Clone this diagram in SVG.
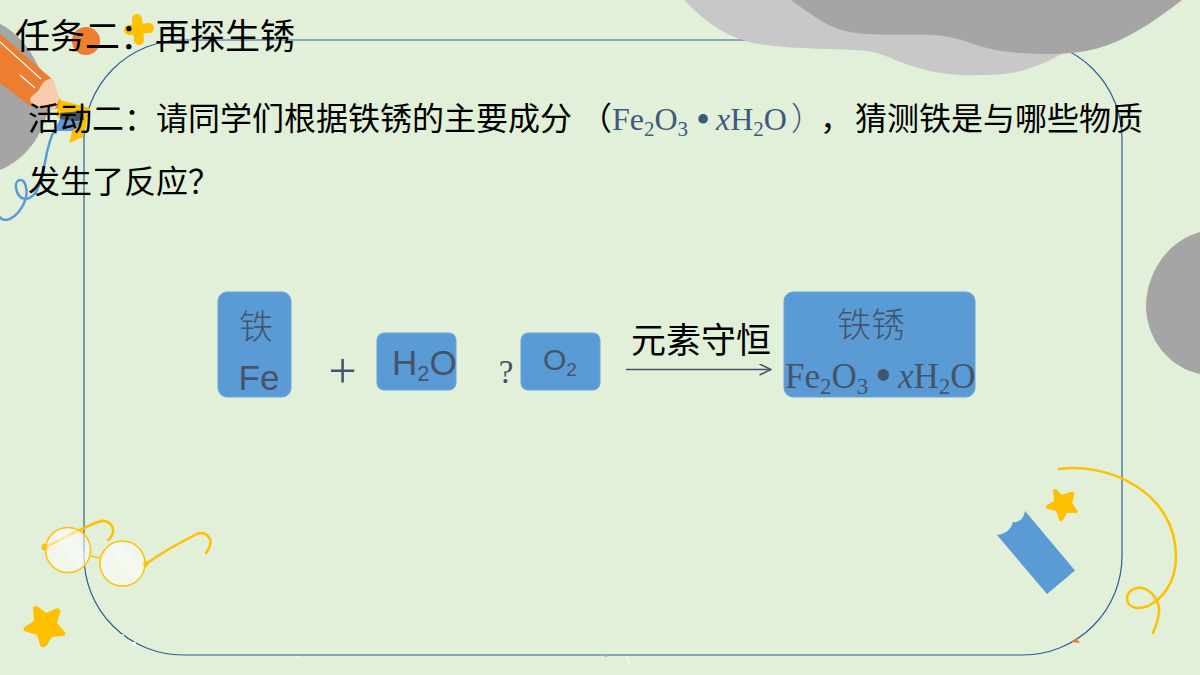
<svg xmlns="http://www.w3.org/2000/svg" width="1200" height="675" viewBox="0 0 1200 675">
  <style>
    .cjk { font-family: "Noto Sans CJK SC", "Liberation Sans", sans-serif; fill: #000; }
    .light { font-family: "Noto Sans CJK SC", "Liberation Sans", sans-serif; font-weight: 300; fill: #44546a; }
    .tnr { font-family: "Liberation Serif", serif; fill: #44546a; }
    .tnrb { font-family: "Liberation Serif", serif; fill: #3b5a80; }
    .sans { font-family: "Liberation Sans", sans-serif; fill: #44546a; }
    .box { fill: #5b9bd5; stroke: #6aa5db; stroke-width: 1; }
    .gold { fill: none; stroke: #ffc000; stroke-linecap: round; }
    .lens { fill: #fff; fill-opacity: 0.5; stroke: #ffc000; stroke-width: 1.5; }
    .gleam { fill: #fff; fill-opacity: 0.3; }
  </style>
  <defs>
    <marker id="arrow" markerWidth="13" markerHeight="12" refX="12" refY="6" orient="auto" markerUnits="userSpaceOnUse">
      <path d="M0.500 0.500 L12 6 L0.500 11.500" fill="none" stroke="#44546a" stroke-width="1.500"/>
    </marker>
    <clipPath id="lens-a"><circle cx="68" cy="550" r="22"/></clipPath>
    <clipPath id="lens-b"><circle cx="122.500" cy="563.500" r="22"/></clipPath>
  </defs>

  <rect width="1200" height="675" fill="#e2efd9"/>

  <!-- rounded frame, its top edge runs behind the grey blobs -->
  <g id="frame">
    <rect x="84" y="40" width="1038" height="615" rx="99" ry="99" fill="none" stroke="#2f5f95" stroke-width="1.200"/>
  </g>

  <!-- background blobs -->
  <g id="blobs">
    <path d="M684 0 C703 20 722 34 746 41 C775 50 835 48 867 51 C880 53 890 58 901 62 C925 72 950 76 977 75 C995 75 1010 74 1025 70 C1040 65 1052 60 1068 50 L1100 0 Z" fill="#c8c8c8"/>
    <path d="M791 0 C800 7 808 12 818 19 C835 30 850 33 867 34 C890 36 920 33 943 36 C958 38 972 44 987 48 C1005 53 1030 54 1050 54 C1075 54 1095 50 1108 45 C1135 35 1160 17 1182 0 Z" fill="#a5a5a5"/>
    <path d="M1200 232 C1170 240 1147 270 1146 305 C1146 340 1170 368 1200 374 Z" fill="#a5a5a5"/>
    <path d="M0 24 C25 36 46 70 49 105 C44 135 25 160 0 170 Z" fill="#a5a5a5"/>
  </g>

  <!-- pencil and small shapes at the top left -->
  <g id="pencil">
    <circle cx="86" cy="41" r="14" fill="#ed7d31"/>
    <path d="M137 19 L139 40 M129 30 L149 28" stroke="#ffc000" stroke-width="10" stroke-linecap="round" fill="none"/>
    <path d="M0 34 L52 79 L30 106 L0 83 Z" fill="#ed7d31"/>
    <path d="M40 88 C43 80 50 78 53 79 L60 100 L61 108 L53 110 C44 108 30 106 30 99 C32 94 38 93 40 88 Z" fill="#f8cbad"/>
    <path d="M55 109 L60 98 L62 107 Z" fill="#ed7d31"/>
    <path d="M60 100 L90 108 L83 137 L69 143 L72 132 L56 115 Z" fill="#ffc000"/>
    <path d="M60 113 L83 111 L84 120 L60 124 Z" fill="#44546a"/>
    <path d="M54 131 L60 119 L82 122 L72 131 Z" fill="#5b9bd5"/>
    <path d="M0 42 L41 79 M20 75 L35 88" stroke="#fff" stroke-width="1.200" fill="none"/>
    <path d="M54 131 C44 150 46 175 36 192 C28 203 18 200 16 188 C15 178 24 177 26 187 C29 200 18 218 6 220 C3 220 1 219 0 217" fill="none" stroke="#5b9bd5" stroke-width="2.500" stroke-linecap="round"/>
  </g>

  <!-- stray marks along the lower frame edge -->
  <g id="specks">
    <circle cx="134" cy="644" r="2.200" fill="#fff"/>
    <circle cx="123" cy="635" r="1" fill="#fff"/>
    <circle cx="298" cy="657" r="1" fill="#fff"/>
    <path d="M626 656 L629 664" stroke="#fff" stroke-width="1"/>
    <path d="M604 657 L608 656" stroke="#f4b183" stroke-width="1"/>
    <path d="M1076 638 L1080 643 L1072 642 Z" fill="#ed7d31"/>
  </g>

  <!-- glasses -->
  <g id="glasses">
    <circle cx="45" cy="547" r="3.500" fill="#ffc000"/>
    <circle cx="145" cy="564" r="3" fill="#ffc000"/>
    <path d="M46 547 C60 540 82 528 98 522 C108 518 114 526 113 532 C112 536 110 539 108 540" class="gold" stroke-width="2.500"/>
    <path d="M146 564 C165 550 185 540 197 534 C207 530 212 540 210 545 C209 549 207 552 206 553" class="gold" stroke-width="2.500"/>
    <path d="M91 556 L100 558" stroke="#ffc000" stroke-width="1.500"/>
    <circle class="lens" cx="68" cy="550" r="22.500"/>
    <circle class="lens" cx="122.500" cy="563.500" r="22.500"/>
    <path class="gleam" clip-path="url(#lens-a)" d="M50 530 L60 525 L92 560 L82 572 Z"/>
    <path class="gleam" clip-path="url(#lens-b)" d="M104 543 L114 538 L146 573 L136 585 Z"/>
  </g>

  <!-- stars -->
  <g id="star-left">
    <path d="M33 607 C35 605 38 606 40 608 L46 613 L55 609 C59 607 61 610 60 613 L57 623 L64 631 C67 634 65 636 62 636 L52 637 L47 645 C44 648 41 648 40 645 L37 635 L27 632 C23 631 22 629 26 626 L34 621 Z" fill="#ffc000"/>
  </g>
  <g id="star-right">
    <path d="M1053 490 C1055 488 1057 489 1058 491 L1062 495 L1070 492 C1074 491 1075 493 1074 496 L1072 503 L1077 510 C1079 512 1077 513 1075 513 L1067 513 L1063 520 C1061 522 1059 521 1059 519 L1056 511 L1048 509 C1045 508 1045 506 1047 505 L1054 501 Z" fill="#ffc000"/>
  </g>

  <!-- eraser -->
  <g id="eraser">
    <path d="M1025 511 L1075 570.500 L1047 594 L997 535 C1005 534 1011 530 1013 522 C1019 523 1024 518 1025 511 Z" fill="#5b9bd5"/>
  </g>

  <!-- curl on the right -->
  <g id="curl">
    <path d="M1059 469 C1105 462 1176 490 1176 557 C1176 585 1160 600 1148 606 C1135 611 1127 606 1127 598 C1128 590 1135 587 1142 588 C1152 590 1160 602 1159 612 C1158 622 1155 628 1153 633" class="gold" stroke-width="2.500"/>
  </g>

  <!-- headings -->
  <g id="title">
    <text class="cjk" x="15" y="49" font-size="35">任务二：再探生锈</text>
  </g>
  <g id="question">
    <text class="cjk" x="28" y="130" font-size="32">活动二：请同学们根据铁锈的主要成分</text>
    <text class="cjk" x="580" y="130" font-size="32">（</text>
    <text class="tnrb" x="612" y="130" font-size="32">Fe<tspan font-size="21" dy="6">2</tspan><tspan dy="-6">O</tspan><tspan font-size="21" dy="6">3</tspan><tspan dy="-3" x="696" font-size="40">•</tspan><tspan dy="-3" x="716" font-style="italic">x</tspan><tspan>H</tspan><tspan font-size="21" dy="6">2</tspan><tspan dy="-6">O</tspan></text>
    <text class="light" style="fill:#3b5a80" x="791" y="130" font-size="32">）</text>
    <text class="cjk" x="820" y="130" font-size="32">，</text>
    <text class="cjk" x="855" y="130" font-size="32">猜测铁是与哪些物质</text>
    <text class="cjk" x="28" y="193" font-size="32">发生了反应？</text>
  </g>

  <!-- equation nodes -->
  <g id="node-fe">
    <rect class="box" x="218" y="292" width="73" height="105" rx="9"/>
    <text class="light" x="256" y="339" font-size="34" text-anchor="middle">铁</text>
    <text class="sans" x="259" y="390" font-size="35" text-anchor="middle">Fe</text>
  </g>
  <g id="plus">
    <text class="tnr" x="342.500" y="388" font-size="50" text-anchor="middle">+</text>
  </g>
  <g id="node-h2o">
    <rect class="box" x="377" y="333" width="79" height="57" rx="7"/>
    <text class="sans" x="392" y="375" font-size="35">H<tspan font-size="22" dy="6">2</tspan><tspan dy="-6">O</tspan></text>
  </g>
  <g id="unknown">
    <text class="tnr" x="506" y="383" font-size="33" text-anchor="middle">?</text>
  </g>
  <g id="node-o2">
    <rect class="box" x="521" y="333" width="79" height="57" rx="7"/>
    <text class="sans" x="543" y="370" font-size="30">O<tspan font-size="19" dy="6">2</tspan></text>
  </g>
  <g id="connectors">
    <path d="M626 369.500 H771" fill="none" stroke="#44546a" stroke-width="1.500" marker-end="url(#arrow)"/>
  </g>
  <g id="arrow-label">
    <text class="cjk" x="631" y="353" font-size="35">元素守恒</text>
  </g>
  <g id="node-rust">
    <rect class="box" x="784" y="292" width="191" height="105" rx="9"/>
    <text class="light" x="871" y="337" font-size="34" text-anchor="middle">铁锈</text>
    <text class="tnr" x="785" y="388" font-size="35">Fe<tspan font-size="23" dy="6">2</tspan><tspan dy="-6">O</tspan><tspan font-size="23" dy="6">3</tspan><tspan dy="-3" x="875" font-size="48">•</tspan><tspan dy="-3" x="898" font-style="italic">x</tspan><tspan>H</tspan><tspan font-size="23" dy="6">2</tspan><tspan dy="-6">O</tspan></text>
  </g>
</svg>
